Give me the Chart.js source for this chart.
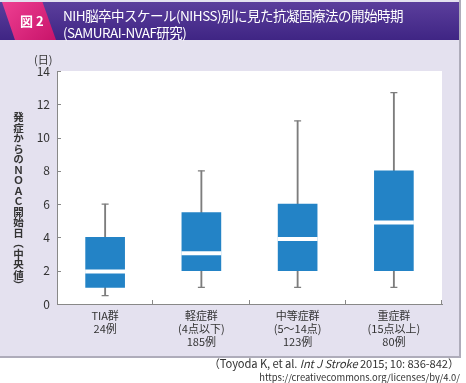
<!DOCTYPE html>
<html><head><meta charset="utf-8">
<script src="https://cdn.jsdelivr.net/npm/chart.js@4"></script>
<style>
html,body{margin:0;padding:0;background:#fff;}
#wrap{position:relative;width:466px;height:383px;overflow:hidden;font-family:"Noto Sans CJK JP","Noto Sans",sans-serif;}
#panel{position:absolute;left:0;top:0;width:459px;height:356px;background:#e4e1ef;border-right:2px solid #aeacba;border-bottom:2px solid #aeacba;}
#head{position:absolute;left:0;top:2px;width:459px;height:38px;background:linear-gradient(#5b3e9c,#3f2584);}
#tab{position:absolute;left:2px;top:2px;width:54px;height:38px;background:linear-gradient(135deg,#ee3f92,#c8146a);clip-path:polygon(0 0,75% 0,100% 100%,24% 100%);}
#tabt{position:absolute;left:20px;top:13px;color:#fff;font-weight:bold;font-size:13px;line-height:16px;}
.tt{position:absolute;left:63px;color:#fff;font-size:13.5px;line-height:16px;white-space:nowrap;letter-spacing:-0.5px;}
#unit{position:absolute;left:34px;top:53px;font-size:11px;line-height:13px;color:#333;}
#ylab{position:absolute;left:12px;top:112px;writing-mode:vertical-rl;text-orientation:upright;font-size:10.5px;font-weight:bold;color:#333;line-height:12px;}
#cite{position:absolute;right:7px;top:356px;font-size:11.2px;line-height:14px;color:#333;white-space:nowrap;letter-spacing:-0.1px;}
#url{position:absolute;right:6px;top:371px;font-size:9.4px;line-height:12px;color:#333;white-space:nowrap;}
canvas{position:absolute;left:0;top:0;}
.z{z-index:2;}
</style></head>
<body>
<div id="wrap">
<div id="panel"></div>
<div id="head"></div>
<div id="tab"></div>
<div id="tabt" class="z">図 2</div>
<div class="tt z" style="top:7px">NIH脳卒中スケール(NIHSS)別に見た抗凝固療法の開始時期</div>
<div class="tt z" style="top:24px">(SAMURAI-NVAF研究)</div>
<canvas id="c" width="466" height="383"></canvas>
<div id="unit" class="z">(日)</div>
<div id="ylab" class="z">発症からのＮＯＡＣ開始日（中央値）</div>
<div id="cite" class="z">（Toyoda K, et al. <i>Int J Stroke</i> 2015; 10: 836-842）</div>
<div id="url" class="z">https://creativecommons.org/licenses/by/4.0/</div>
</div>
<script>
const categories = [
  ['TIA群','24例'],
  ['軽症群','(4点以下)','185例'],
  ['中等症群','(5～14点)','123例'],
  ['重症群','(15点以上)','80例']
];
const mins    = [0.5, 1, 1, 1];
const q1      = [1, 2, 2, 2];
const medians = [1.95, 3.05, 3.9, 4.9];
const q3      = [4, 5.5, 6, 8];
const maxs    = [6, 8, 11, 12.7];
const yTicks  = [0, 2, 4, 6, 8, 10, 12, 14];

const boxColor = '#2383c6';
const whiskColor = '#7d7d7d';

const plotBg = {
  id:'plotBg',
  beforeDraw(chart){
    const {ctx, chartArea:a} = chart;
    ctx.save(); ctx.fillStyle='#fff';
    ctx.fillRect(a.left, a.top, a.right-a.left, a.bottom-a.top);
    ctx.restore();
  },
  afterDraw(chart){
    const {ctx, chartArea:a, scales} = chart;
    ctx.save(); ctx.strokeStyle='#888'; ctx.lineWidth=1;
    ctx.beginPath();
    yTicks.forEach(v=>{ const y=Math.round(scales.y.getPixelForValue(v))+0.5; ctx.moveTo(a.left, y); ctx.lineTo(a.left+4, y); });
    for(let i=0;i<categories.length;i++){
      const x = i<categories.length-1 ? (scales.x.getPixelForValue(i)+scales.x.getPixelForValue(i+1))/2 : a.right;
      const xx=Math.round(x)-0.5;
      ctx.moveTo(xx, a.bottom); ctx.lineTo(xx, a.bottom-4);
    }
    ctx.stroke(); ctx.restore();
  }
};

new Chart(document.getElementById('c'), {
  type:'bar',
  data:{
    labels: categories,
    datasets:[
      {type:'line', data: medians, showLine:false, pointStyle:'line', pointRadius:20, pointHoverRadius:20,
       pointBorderColor:'#fff', pointBorderWidth:4, order:0},
      {type:'line', data: maxs, showLine:false, pointStyle:'line', pointRadius:3.5, pointHoverRadius:3.5,
       pointBorderColor:whiskColor, pointBorderWidth:1.2, order:1},
      {type:'line', data: mins, showLine:false, pointStyle:'line', pointRadius:3.5, pointHoverRadius:3.5,
       pointBorderColor:whiskColor, pointBorderWidth:1.2, order:1},
      {data: q1.map((v,i)=>[v,q3[i]]), backgroundColor:boxColor, borderWidth:0, barThickness:39, grouped:false, order:2},
      {data: mins.map((v,i)=>[v,maxs[i]]), backgroundColor:whiskColor, borderWidth:0, barThickness:1.2, grouped:false, order:3}
    ]
  },
  options:{
    responsive:false, animation:false,
    layout:{padding:{left:0, right:17, top:71, bottom:29}},
    plugins:{legend:{display:false}, tooltip:{enabled:false}},
    scales:{
      x:{
        grid:{display:false, drawTicks:false},
        border:{display:true, color:'#888', width:1},
        ticks:{color:'#333', padding:5, maxRotation:0, font:{family:'"Noto Sans CJK JP"', size:11, lineHeight:1.18}},
        afterFit(s){ s.height = 50; }
      },
      y:{
        min:0, max:14,
        afterBuildTicks(s){ s.ticks = yTicks.map(v=>({value:v})); },
        grid:{display:false, drawTicks:false},
        border:{display:true, color:'#888', width:1},
        ticks:{color:'#333', padding:7, font:{family:'"Noto Sans CJK JP"', size:12}},
        afterFit(s){ s.width = 57; }
      }
    }
  },
  plugins:[plotBg]
});
</script>
</body></html>
